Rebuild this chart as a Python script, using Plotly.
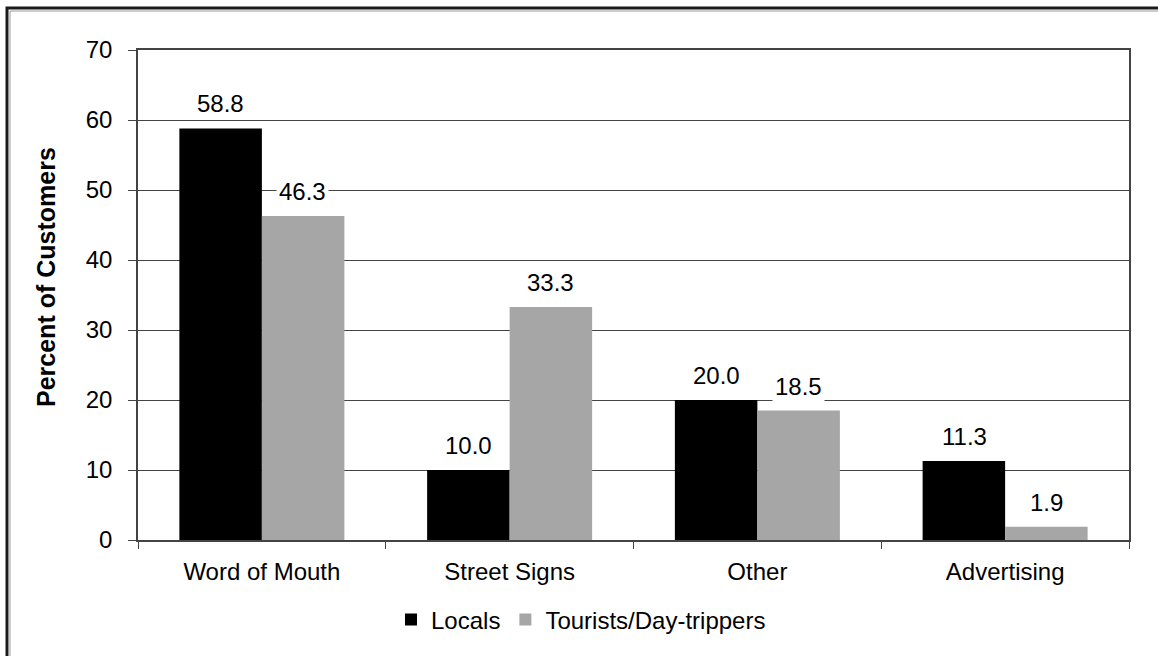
import plotly.graph_objects as go

categories = ["Word of Mouth", "Street Signs", "Other", "Advertising"]
locals_vals = [58.8, 10.0, 20.0, 11.3]
tourists_vals = [46.3, 33.3, 18.5, 1.9]
series_names = ["Locals", "Tourists/Day-trippers"]
y_ticks = [0, 10, 20, 30, 40, 50, 60, 70]

W, H = 1158, 656
L, R, T, B = 138, 29, 50, 116
pw, ph = W - L - R, H - T - B

FONT = "Liberation Sans, Arial, sans-serif"
GRAY = "#A6A6A6"
LINE = "#444444"

fig = go.Figure()
fig.add_trace(go.Bar(x=categories, y=locals_vals, name=series_names[0],
                     marker=dict(color="#000000", line=dict(width=0))))
fig.add_trace(go.Bar(x=categories, y=tourists_vals, name=series_names[1],
                     marker=dict(color=GRAY, line=dict(width=0))))

annotations = []
for vals, shift in ((locals_vals, -41), (tourists_vals, 41)):
    for c, v in zip(categories, vals):
        annotations.append(dict(x=c, y=v, xref="x", yref="y", text=f"{v:.1f}",
                                showarrow=False, yanchor="bottom", xshift=shift, yshift=8,
                                bgcolor="white", borderpad=2,
                                font=dict(family=FONT, size=24, color="black")))

def px2paper_x(px):
    return (px - L) / pw

def px2paper_y(py):
    return (H - B - py) / ph

annotations.append(dict(x=px2paper_x(46), y=px2paper_y(277), xref="paper", yref="paper",
                        text="<b>Percent of Customers</b>", textangle=-90, showarrow=False,
                        xanchor="center", yanchor="middle",
                        font=dict(family=FONT, size=25, color="black")))

shapes = [
    dict(type="rect", xref="paper", yref="paper", layer="above",
         x0=px2paper_x(7), y0=px2paper_y(H + 20), x1=px2paper_x(W + 20), y1=px2paper_y(8),
         line=dict(color="#1a1a1a", width=3)),
    dict(type="rect", xref="paper", yref="paper", layer="above",
         x0=px2paper_x(10), y0=px2paper_y(H + 20), x1=px2paper_x(W + 20), y1=px2paper_y(11),
         line=dict(color="#9a9a9a", width=1)),
]

fig.update_layout(
    width=W, height=H,
    margin=dict(l=L, r=R, t=T, b=B, autoexpand=False),
    paper_bgcolor="white", plot_bgcolor="white",
    barmode="group", bargap=0.334, bargroupgap=0,
    font=dict(family=FONT, size=24, color="black"),
    showlegend=True,
    legend=dict(orientation="h", x=px2paper_x(391), xanchor="left", y=px2paper_y(620), yanchor="middle",
                font=dict(family=FONT, size=24, color="black"),
                itemwidth=30, tracegroupgap=0, bgcolor="rgba(0,0,0,0)"),
    annotations=annotations,
    shapes=shapes,
    xaxis=dict(type="category", showline=True, linecolor=LINE, linewidth=1.5, mirror=True,
               ticks="outside", tickson="boundaries", ticklen=7, tickcolor=LINE,
               showgrid=False, tickfont=dict(family=FONT, size=24, color="black"),
               ticklabelstandoff=9),
    yaxis=dict(range=[0, 70], tickvals=y_ticks, showline=True, linecolor=LINE, linewidth=1.5,
               mirror=True, ticks="outside", ticklen=8, tickcolor=LINE,
               showgrid=True, gridcolor=LINE, gridwidth=1, zeroline=False,
               tickfont=dict(family=FONT, size=24, color="black"), ticklabelstandoff=11),
)

fig.write_html("out.html", config={"displayModeBar": False},
               post_script="document.body.style.margin='0';document.body.style.overflow='hidden';")
